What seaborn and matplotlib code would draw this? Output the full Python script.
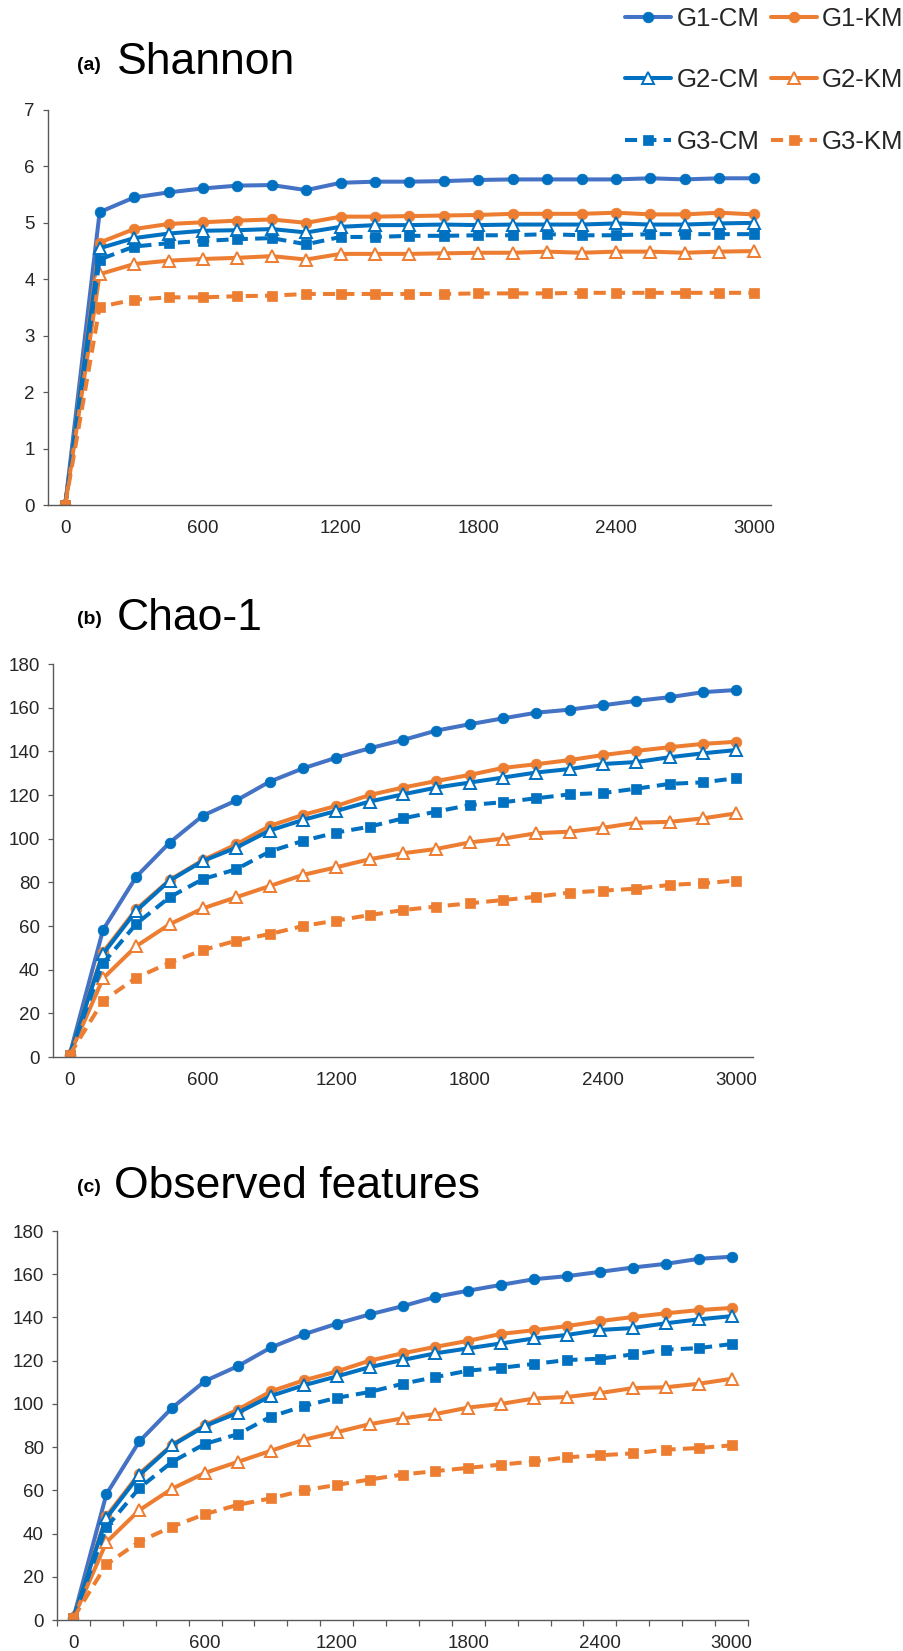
import matplotlib
matplotlib.use("Agg")
import matplotlib.pyplot as plt
import seaborn as sns
import pandas as pd
from matplotlib.ticker import FixedLocator

sns.set_style("white")
plt.rcParams["font.family"] = ["Liberation Sans", "DejaVu Sans"]

# ---------------- data ----------------
depth = [0, 150, 300, 450, 600, 750, 900, 1050, 1200, 1350, 1500,
         1650, 1800, 1950, 2100, 2250, 2400, 2550, 2700, 2850, 3000]
series_names = ["G1-CM", "G1-KM", "G2-CM", "G2-KM", "G3-CM", "G3-KM"]

shannon_g1_cm = [0, 5.19, 5.45, 5.54, 5.61, 5.66, 5.67, 5.58, 5.71, 5.73, 5.73,
                 5.74, 5.76, 5.77, 5.77, 5.77, 5.77, 5.79, 5.77, 5.79, 5.79]
shannon_g1_km = [0, 4.65, 4.89, 4.98, 5.01, 5.04, 5.06, 5.00, 5.11, 5.11, 5.12,
                 5.13, 5.14, 5.16, 5.16, 5.16, 5.18, 5.15, 5.15, 5.18, 5.15]
shannon_g2_cm = [0, 4.55, 4.73, 4.81, 4.86, 4.87, 4.89, 4.83, 4.93, 4.96, 4.96,
                 4.97, 4.96, 4.97, 4.97, 4.97, 4.99, 4.97, 4.97, 4.99, 5.00]
shannon_g2_km = [0, 4.09, 4.27, 4.33, 4.36, 4.38, 4.41, 4.35, 4.45, 4.45, 4.45,
                 4.46, 4.47, 4.47, 4.49, 4.47, 4.49, 4.49, 4.47, 4.49, 4.50]
shannon_g3_cm = [0, 4.35, 4.58, 4.64, 4.68, 4.71, 4.73, 4.62, 4.75, 4.75, 4.77,
                 4.77, 4.78, 4.78, 4.80, 4.78, 4.78, 4.80, 4.80, 4.80, 4.80]
shannon_g3_km = [0, 3.51, 3.64, 3.68, 3.68, 3.70, 3.71, 3.74, 3.74, 3.74, 3.74,
                 3.74, 3.75, 3.75, 3.75, 3.76, 3.76, 3.76, 3.76, 3.76, 3.76]

chao1_g1_cm = [1, 58.2, 82.6, 98.2, 110.6, 117.5, 126.1, 132.2, 137.1, 141.4, 145.2,
               149.5, 152.4, 155.1, 157.7, 159.1, 161.1, 163.1, 164.8, 167.1, 168.1]
chao1_g1_km = [1, 48.0, 67.7, 81.1, 90.2, 97.4, 105.8, 110.9, 115.0, 120.0, 123.4,
               126.4, 129.2, 132.4, 134.1, 136.0, 138.3, 140.2, 141.9, 143.4, 144.4]
chao1_g2_cm = [1, 47.2, 67.0, 80.8, 89.8, 95.9, 103.7, 108.6, 112.7, 117.0, 120.3,
               123.4, 125.7, 128.0, 130.3, 131.9, 134.2, 135.1, 137.3, 139.1, 140.6]
chao1_g2_km = [1, 36.0, 50.8, 60.8, 68.1, 73.2, 78.3, 83.4, 86.9, 90.6, 93.3,
               95.3, 98.3, 100.0, 102.5, 103.2, 105.0, 107.3, 107.7, 109.3, 111.6]
chao1_g3_cm = [1, 42.9, 61.0, 73.2, 81.5, 86.0, 94.1, 99.0, 102.8, 105.5, 109.3,
               112.4, 115.4, 116.7, 118.5, 120.3, 120.9, 122.9, 125.1, 125.8, 127.7]
chao1_g3_km = [1, 25.7, 36.3, 43.2, 49.0, 53.3, 56.3, 60.0, 62.5, 65.0, 67.3,
               68.9, 70.4, 71.9, 73.4, 75.3, 76.2, 77.1, 78.8, 79.6, 80.8]

obs_g1_cm = [1, 58.2, 82.6, 98.2, 110.6, 117.5, 126.1, 132.2, 137.1, 141.4, 145.2,
             149.5, 152.4, 155.1, 157.7, 159.1, 161.1, 163.1, 164.8, 167.1, 168.1]
obs_g1_km = [1, 48.0, 67.7, 81.1, 90.2, 97.4, 105.8, 110.9, 115.0, 120.0, 123.4,
             126.4, 129.2, 132.4, 134.1, 136.0, 138.3, 140.2, 141.9, 143.4, 144.4]
obs_g2_cm = [1, 47.2, 67.0, 80.8, 89.8, 95.9, 103.7, 108.6, 112.7, 117.0, 120.3,
             123.4, 125.7, 128.0, 130.3, 131.9, 134.2, 135.1, 137.3, 139.1, 140.6]
obs_g2_km = [1, 36.0, 50.8, 60.8, 68.1, 73.2, 78.3, 83.4, 86.9, 90.6, 93.3,
             95.3, 98.3, 100.0, 102.5, 103.2, 105.0, 107.3, 107.7, 109.3, 111.6]
obs_g3_cm = [1, 42.9, 61.0, 73.2, 81.5, 86.0, 94.1, 99.0, 102.8, 105.5, 109.3,
             112.4, 115.4, 116.7, 118.5, 120.3, 120.9, 122.9, 125.1, 125.8, 127.7]
obs_g3_km = [1, 25.7, 36.3, 43.2, 49.0, 53.3, 56.3, 60.0, 62.5, 65.0, 67.3,
             68.9, 70.4, 71.9, 73.4, 75.3, 76.2, 77.1, 78.8, 79.6, 80.8]

x_tick_values = [0, 600, 1200, 1800, 2400, 3000]
shannon_ticks = [0, 1, 2, 3, 4, 5, 6, 7]
richness_ticks = [0, 20, 40, 60, 80, 100, 120, 140, 160, 180]

panels = [
    ("(a)", "Shannon", [shannon_g1_cm, shannon_g1_km, shannon_g2_cm,
                        shannon_g2_km, shannon_g3_cm, shannon_g3_km], shannon_ticks),
    ("(b)", "Chao-1", [chao1_g1_cm, chao1_g1_km, chao1_g2_cm,
                       chao1_g2_km, chao1_g3_cm, chao1_g3_km], richness_ticks),
    ("(c)", "Observed features", [obs_g1_cm, obs_g1_km, obs_g2_cm,
                                  obs_g2_km, obs_g3_cm, obs_g3_km], richness_ticks),
]

# ---------------- styles ----------------
BLUE = "#0070C0"
BLUE_L = "#4472C4"
ORANGE = "#ED7D31"
DASH = (0, (3, 1.8))
LW = 2.9
styles = {
    "G1-CM": dict(color=BLUE_L, marker="o", markerfacecolor=BLUE, markeredgecolor=BLUE,
                  markersize=7.7, markeredgewidth=0.5, linestyle="-"),
    "G1-KM": dict(color=ORANGE, marker="o", markerfacecolor=ORANGE, markeredgecolor=ORANGE,
                  markersize=7.7, markeredgewidth=0.5, linestyle="-"),
    "G2-CM": dict(color=BLUE, marker="^", markerfacecolor="white", markeredgecolor=BLUE,
                  markersize=8.8, markeredgewidth=1.4, linestyle="-"),
    "G2-KM": dict(color=ORANGE, marker="^", markerfacecolor="white", markeredgecolor=ORANGE,
                  markersize=8.8, markeredgewidth=1.4, linestyle="-"),
    "G3-CM": dict(color=BLUE, marker="s", markerfacecolor=BLUE, markeredgecolor=BLUE,
                  markersize=7.0, markeredgewidth=0.5, linestyle=DASH),
    "G3-KM": dict(color=ORANGE, marker="s", markerfacecolor=ORANGE, markeredgecolor=ORANGE,
                  markersize=7.0, markeredgewidth=0.5, linestyle=DASH),
}

W, H = 904, 1651
fig = plt.figure(figsize=(W / 100, H / 100), dpi=100)

# axes boxes in pixel coords: (left, top, right, bottom)
boxes = [(48, 110, 771, 505), (53, 664, 753, 1057), (57, 1231, 748, 1620)]
title_y = [74, 630, 1198]
tag_y = [70, 624, 1192]
title_x = [117, 117, 114]

SPINE = "#595959"
TICKFS = 13.5
axes = []
for i, (tag, title, data, yt) in enumerate(panels):
    l, t, r, b = boxes[i]
    ax = fig.add_axes([l / W, 1 - b / H, (r - l) / W, (b - t) / H])
    axes.append(ax)
    for name, vals in zip(series_names, data):
        df = pd.DataFrame({"depth": depth, "value": vals})
        sns.lineplot(data=df, x="depth", y="value", ax=ax, label=name,
                     legend=False, linewidth=LW, **styles[name])
    ax.set_xlim(-75, 3075)
    ax.set_ylim(yt[0], yt[-1])
    ax.set_xticks(x_tick_values)
    ax.set_xticklabels([str(v) for v in x_tick_values])
    ax.set_yticks(yt)
    ax.set_yticklabels([str(v) for v in yt])
    ax.set_xlabel("")
    ax.set_ylabel("")
    for s in ["top", "right"]:
        ax.spines[s].set_visible(False)
    for s in ["left", "bottom"]:
        ax.spines[s].set_color(SPINE)
        ax.spines[s].set_linewidth(1.0)
    ax.tick_params(axis="y", which="major", direction="out", length=3.6, width=0.9,
                   color=SPINE, labelsize=TICKFS, labelcolor="#262626", pad=6.0, left=True)
    ax.tick_params(axis="x", which="major", length=0, labelsize=TICKFS,
                   labelcolor="#262626", pad=10.5, bottom=True)
    ax.grid(False)
    if i == 2:
        ax.xaxis.set_minor_locator(FixedLocator([-75 + 150 * k for k in range(22)]))
        ax.tick_params(axis="x", which="minor", direction="out", length=4.3,
                       width=0.9, color=SPINE, bottom=True)
    fig.text(77 / W, 1 - tag_y[i] / H, tag, fontsize=14, fontweight="bold",
             ha="left", va="baseline", color="black")
    fig.text(title_x[i] / W, 1 - title_y[i] / H, title, fontsize=32,
             ha="left", va="baseline", color="black")

handles, labels = axes[0].get_legend_handles_labels()
hmap = dict(zip(labels, handles))
order = ["G1-CM", "G2-CM", "G3-CM", "G1-KM", "G2-KM", "G3-KM"]
fig.legend([hmap[k] for k in order], order, ncol=2, loc="upper left",
           bbox_to_anchor=(625 / W, 1 - 7 / H), frameon=False, fontsize=18.5,
           handlelength=1.8, handletextpad=0.2, columnspacing=0.45,
           labelspacing=1.45, borderpad=0, borderaxespad=0, numpoints=1)

fig.savefig("out.png", dpi=100, facecolor="white")
